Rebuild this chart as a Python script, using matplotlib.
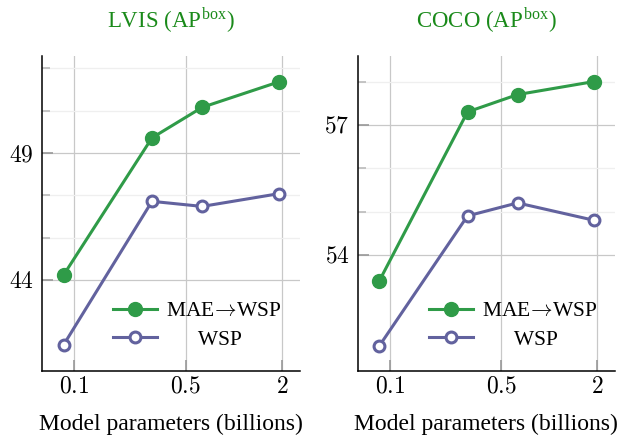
import matplotlib
matplotlib.use("Agg")
import matplotlib.pyplot as plt
from matplotlib.ticker import FixedLocator, NullLocator

plt.rcParams['font.family'] = ['Liberation Serif', 'DejaVu Serif']
plt.rcParams['mathtext.fontset'] = 'cm'

# Data
params = [0.086, 0.307, 0.632, 1.9]
lvis_mae = [44.2, 49.6, 50.8, 51.8]
lvis_wsp = [41.45, 47.1, 46.9, 47.4]
coco_mae = [53.4, 57.3, 57.7, 58.0]
coco_wsp = [51.9, 54.9, 55.2, 54.8]

x_ticks = [0.1, 0.5, 2]
x_labels = ['0.1', '0.5', '2']
lvis_major = [44, 49]
lvis_minor = [44 + 5/3, 44 + 10/3, 49 + 5/3, 49 + 10/3]
coco_major = [54, 57]
coco_minor = [55, 56, 58]

titles = ['LVIS (AP$^{\\mathregular{box}}$)', 'COCO (AP$^{\\mathregular{box}}$)']
series_labels = ['MAE$\\!\\rightarrow\\!$WSP', '      WSP']
xlabel = 'Model parameters (billions)'

green = '#2f9b48'
purple = '#62629e'
title_color = '#1a8a1a'

fig = plt.figure(figsize=(6.2, 4.36), dpi=100)
ax1 = fig.add_axes([0.0677, 0.149, 0.416, 0.7225])
ax2 = fig.add_axes([0.577, 0.149, 0.415, 0.7225])

configs = [
    (ax1, lvis_mae, lvis_wsp, lvis_major, lvis_minor, (40.42, 52.82), titles[0]),
    (ax2, coco_mae, coco_wsp, coco_major, coco_minor, (51.32, 58.59), titles[1]),
]

for ax, mae, wsp, major, minor, ylim, title in configs:
    ax.set_xscale('log')
    ax.plot(params, mae, color=green, lw=2.2, marker='o', ms=10,
            mfc=green, mec=green, label=series_labels[0], zorder=3)
    ax.plot(params, wsp, color=purple, lw=2.2, marker='o', ms=7.8,
            mfc='white', mec=purple, mew=2.2, label=series_labels[1], zorder=3)
    ax.set_xlim(0.063, 2.58)
    ax.set_ylim(*ylim)
    ax.xaxis.set_major_locator(FixedLocator(x_ticks))
    ax.xaxis.set_minor_locator(NullLocator())
    ax.set_xticklabels(['$%s$' % s for s in x_labels])
    ax.yaxis.set_major_locator(FixedLocator(major))
    ax.yaxis.set_minor_locator(FixedLocator(minor))
    ax.set_yticklabels(['$%d$' % v for v in major])
    ax.grid(True, which='major', color='#c8c8c8', lw=0.9, zorder=0)
    ax.grid(True, which='minor', axis='y', color='#efefef', lw=0.9, zorder=0)
    ax.tick_params(which='major', direction='in', length=8, width=1.2,
                   color='#999999', labelsize=17)
    ax.tick_params(axis='x', which='major', pad=4)
    ax.tick_params(axis='y', which='major', pad=6)
    ax.tick_params(which='minor', direction='in', length=6, width=1.2,
                   color='#bbbbbb')
    for s in ['top', 'right']:
        ax.spines[s].set_visible(False)
    for s in ['left', 'bottom']:
        ax.spines[s].set_linewidth(1.1)
    ax.set_xlabel(xlabel, fontsize=17, labelpad=12)
    ax.set_title(title, color=title_color, fontsize=16.5, pad=20)
    ax.legend(loc='lower left', bbox_to_anchor=(0.243, 0.04), frameon=False,
              fontsize=15.5, handlelength=2.05, handletextpad=0.42,
              labelspacing=0.4, borderaxespad=0)

fig.savefig('out.png', dpi=100)
